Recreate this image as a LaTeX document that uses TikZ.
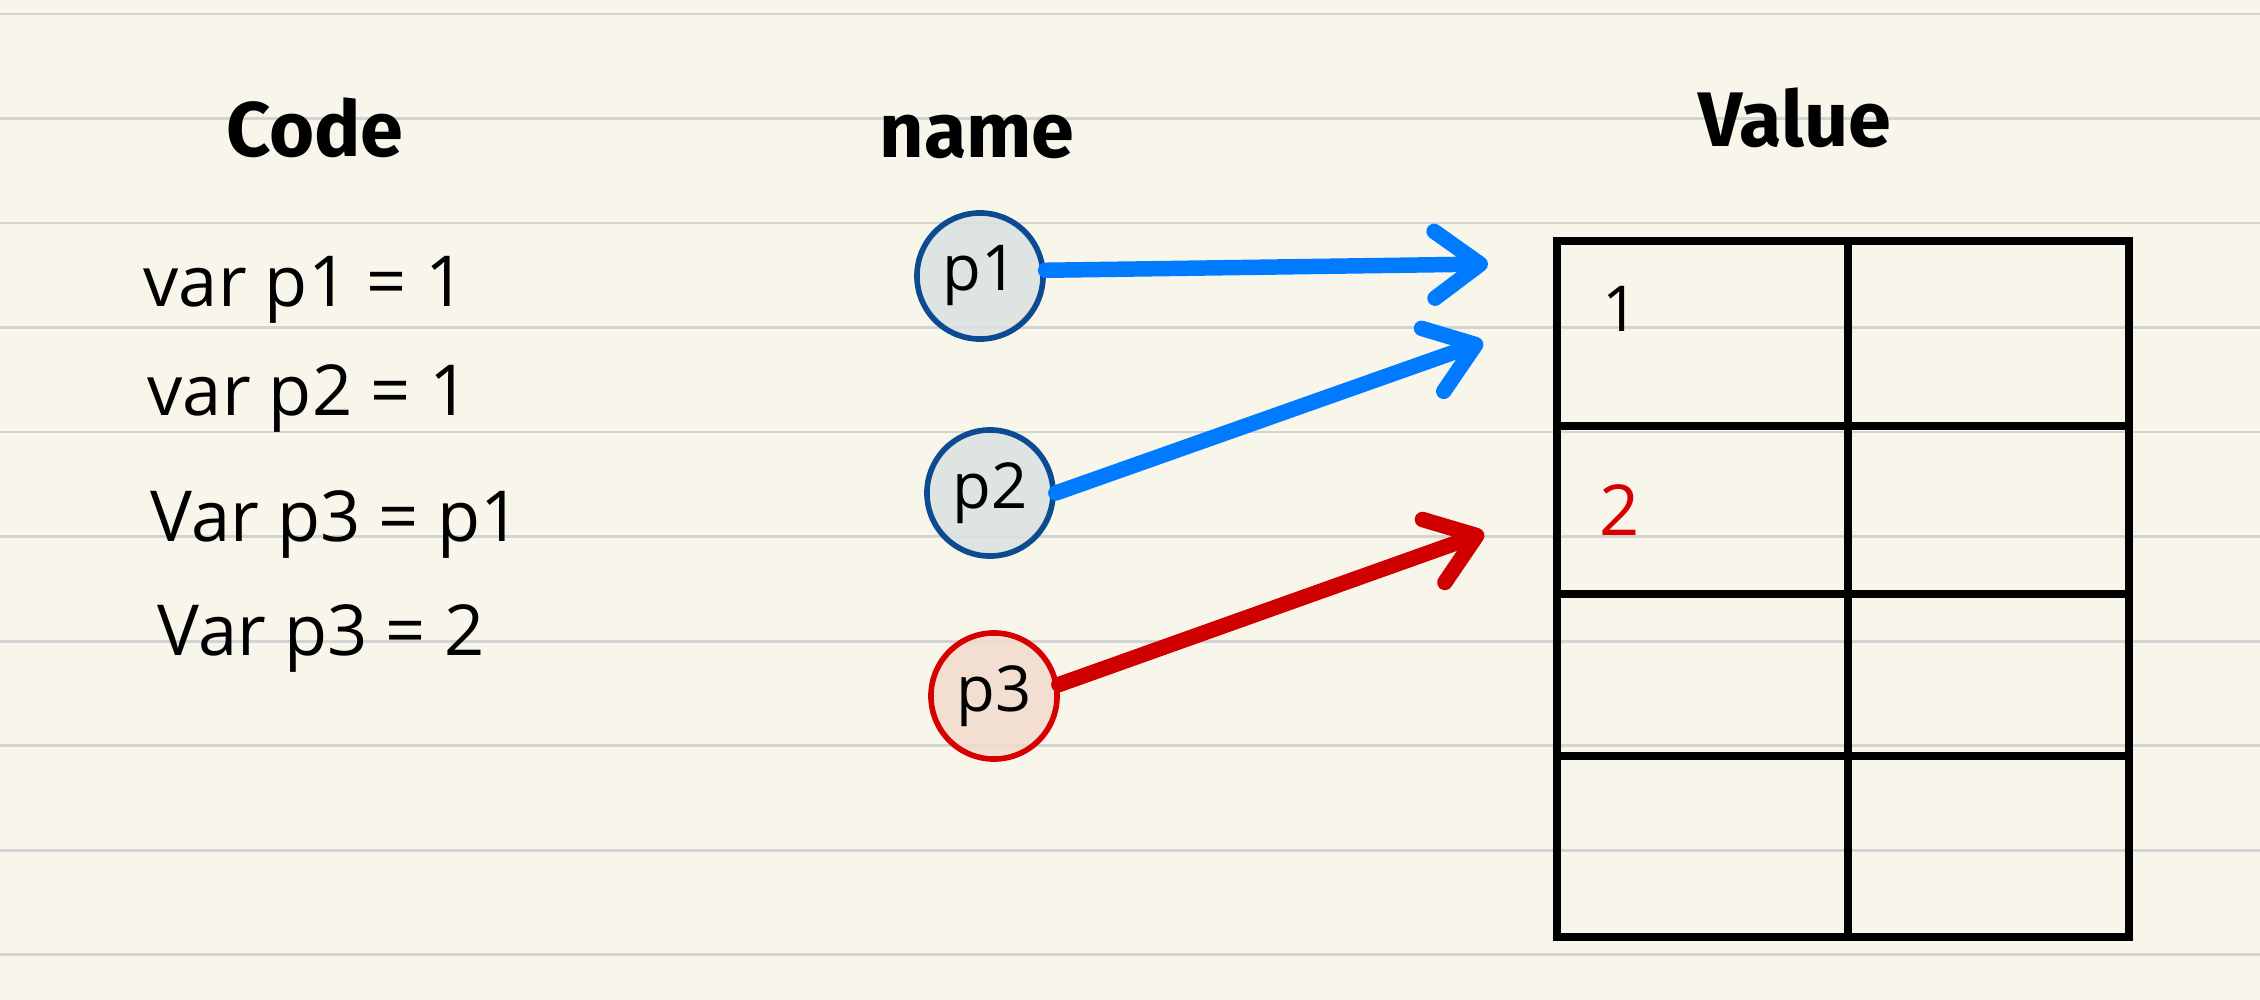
\documentclass[tikz,border=0pt]{standalone}
\usepackage{fontspec}
\setmainfont{Open Sans}
\newfontfamily\headfont{Fira Sans}
\usetikzlibrary{arrows.meta}
\definecolor{paper}{RGB}{248,246,234}
\definecolor{rulegray}{RGB}{211,211,211}
\definecolor{nodeblue}{RGB}{12,74,146}
\definecolor{nodefillblue}{RGB}{218,226,224}
\definecolor{nodered}{RGB}{214,0,0}
\definecolor{nodefillred}{RGB}{243,219,206}
\definecolor{arrowblue}{RGB}{0,122,255}
\definecolor{arrowred}{RGB}{208,0,0}
\definecolor{inkred}{RGB}{214,0,0}
\begin{document}
\begin{tikzpicture}[x=0.01cm,y=-0.01cm,
  header/.style={font=\headfont\bfseries\fontsize{22}{26}\selectfont, inner sep=0},
  codeline/.style={font=\fontsize{20}{24}\selectfont, anchor=base west, inner sep=0},
  varnode/.style={circle, minimum size=1.26cm, inner sep=0, line width=1.6pt,
    font=\fontsize{18}{22}\selectfont, fill opacity=0.85, text opacity=1},
  bluevar/.style={varnode, draw=nodeblue, fill=nodefillblue},
  redvar/.style={varnode, draw=nodered, fill=nodefillred},
  pointer/.style={line width=4.4pt, line cap=round,
    -{Straight Barb[length=13pt,width=19pt,round]}},
  tableline/.style={line width=2.2pt, line cap=butt},
  cellval/.style={inner sep=0}
]
\fill[paper] (0,0) rectangle (2260,1000);
\useasboundingbox (0,0) rectangle (2260,1000);
\foreach \yy in {14,118.5,223,327.5,432,536.5,641,745.5,850,954.5}
  \draw[rulegray, line width=0.85pt] (0,\yy) -- (2260,\yy);

% headers
\node[header] (hcode) at (315,128) {Code};
\node[header] (hname) at (977,137) {name};
\node[header] (hvalue) at (1795,118) {Value};

% code lines
\node[codeline] (c1) at (143,306) {var p1 = 1};
\node[codeline] (c2) at (147,415) {var p2 = 1};
\node[codeline] (c3) at (150,541) {Var p3 = p1};
\node[codeline] (c4) at (157,655) {Var p3 = 2};

% variable nodes
\node[bluevar] (p1) at (980,276) {p1};
\node[bluevar] (p2) at (990,493) {p2};
\node[redvar]  (p3) at (994,696) {p3};

% table
\node[draw, line width=2.2pt, minimum width=5.72cm, minimum height=6.96cm, inner sep=0] (tbl) at (1843,589) {};
\draw[tableline] (tbl.north -| 1848,0) -- (tbl.south -| 1848,0);
\draw[tableline] (tbl.west |- 0,426) -- (tbl.east |- 0,426);
\draw[tableline] (tbl.west |- 0,594) -- (tbl.east |- 0,594);
\draw[tableline] (tbl.west |- 0,756) -- (tbl.east |- 0,756);
\node[cellval, font=\fontsize{18}{20}\selectfont] (v1) at (1621,309) {1};
\node[cellval, font=\fontsize{20}{22}\selectfont, text=inkred] (v2) at (1620,510) {2};

% pointers
\coordinate (t1) at (1488,264);
\coordinate (t2) at (1483,342);
\coordinate (t3) at (1484,533);
\draw[pointer, arrowblue] (p1.5) -- (t1);
\draw[pointer, arrowblue] (p2.east) -- (t2);
\draw[pointer, arrowred] (p3.10) -- (t3);
\end{tikzpicture}
\end{document}
